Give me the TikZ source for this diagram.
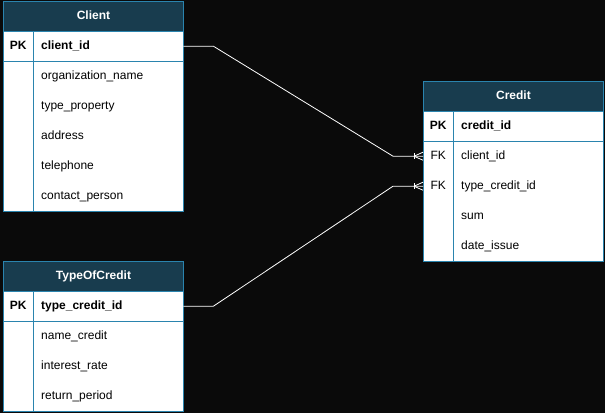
\documentclass[tikz,border=0pt]{standalone}
\usepackage{fontspec}
\setmainfont{Liberation Sans}
\usetikzlibrary{calc}
\definecolor{bgc}{HTML}{0A0A0A}
\definecolor{hdrc}{HTML}{183C4E}
\definecolor{brd}{HTML}{2A84AE}
\begin{document}
\begin{tikzpicture}[x=1pt,y=-1pt,
  font=\fontsize{12}{14}\selectfont,
  hdr/.style={draw=brd,fill=hdrc,text=white,font=\fontsize{12}{14}\selectfont\bfseries,minimum width=180pt,minimum height=30pt,anchor=north west,inner sep=0pt,line width=0.9pt,text height=9pt,text depth=3pt},
  keyc/.style={minimum width=30pt,minimum height=30pt,anchor=north west,inner sep=0pt,text=black,text height=9pt,text depth=3pt},
  fld/.style={minimum width=150pt,minimum height=30pt,anchor=north west,inner sep=0pt,text=black,text width=134pt,align=left,text height=9pt,text depth=3pt},
  tbl/.style={draw=brd,fill=white,line width=0.9pt},
  sep/.style={draw=brd,line width=0.9pt},
  conn/.style={draw=white,line width=0.8pt}
]
\fill[bgc] (0,0) rectangle (605,413);
\useasboundingbox (0,0) rectangle (605,413);

% ---------- Client ----------
\path[tbl] (3,1) rectangle (183,211);
\node[hdr] (clienth) at (3,1) {Client};
\node[keyc,font=\fontsize{12}{14}\selectfont\bfseries] (clientpk) at (3,31) {PK};
\node[fld,font=\fontsize{12}{14}\selectfont\bfseries] (clientid) at (33,31) {client\_id};
\node[fld] (cf1) at (33,61) {organization\_name};
\node[fld] (cf2) at (33,91) {type\_property};
\node[fld] (cf3) at (33,121) {address};
\node[fld] (cf4) at (33,151) {telephone};
\node[fld] (cf5) at (33,181) {contact\_person};
\draw[sep] (3,61) -- (183,61);
\draw[sep] (33,31) -- (33,211);
\path[draw=brd,line width=0.9pt] (3,1) rectangle (183,211);

% ---------- Credit ----------
\path[tbl] (423,81) rectangle (603,261);
\node[hdr] (credith) at (423,81) {Credit};
\node[keyc,font=\fontsize{12}{14}\selectfont\bfseries] (creditpk) at (423,111) {PK};
\node[fld,font=\fontsize{12}{14}\selectfont\bfseries] (creditid) at (453,111) {credit\_id};
\node[keyc] (fk1) at (423,141) {FK};
\node[fld] (crf1) at (453,141) {client\_id};
\node[keyc] (fk2) at (423,171) {FK};
\node[fld] (crf2) at (453,171) {type\_credit\_id};
\node[fld] (crf3) at (453,201) {sum};
\node[fld] (crf4) at (453,231) {date\_issue};
\draw[sep] (423,141) -- (603,141);
\draw[sep] (453,111) -- (453,261);
\path[draw=brd,line width=0.9pt] (423,81) rectangle (603,261);

% ---------- TypeOfCredit ----------
\path[tbl] (3,261) rectangle (183,411);
\node[hdr] (typeh) at (3,261) {TypeOfCredit};
\node[keyc,font=\fontsize{12}{14}\selectfont\bfseries] (typepk) at (3,291) {PK};
\node[fld,font=\fontsize{12}{14}\selectfont\bfseries] (typeid) at (33,291) {type\_credit\_id};
\node[fld] (tf1) at (33,321) {name\_credit};
\node[fld] (tf2) at (33,351) {interest\_rate};
\node[fld] (tf3) at (33,381) {return\_period};
\draw[sep] (3,321) -- (183,321);
\draw[sep] (33,291) -- (33,411);
\path[draw=brd,line width=0.9pt] (3,261) rectangle (183,411);

% ---------- Connectors ----------
\draw[conn] (clientid.east) -- ++(30,0) -- ($(fk1.west)+(-30,0)$) -- (fk1.west);
\draw[conn] (typeid.east) -- ++(30,0) -- ($(fk2.west)+(-30,0)$) -- (fk2.west);
\foreach \n in {fk1,fk2}{
  \draw[conn] ($(\n.west)+(-9,-3)$) -- ($(\n.west)+(-9,3)$);
  \draw[conn] ($(\n.west)+(-9,0)$) -- ($(\n.west)+(0,-4)$);
  \draw[conn] ($(\n.west)+(-9,0)$) -- ($(\n.west)+(0,4)$);
}
\end{tikzpicture}
\end{document}
